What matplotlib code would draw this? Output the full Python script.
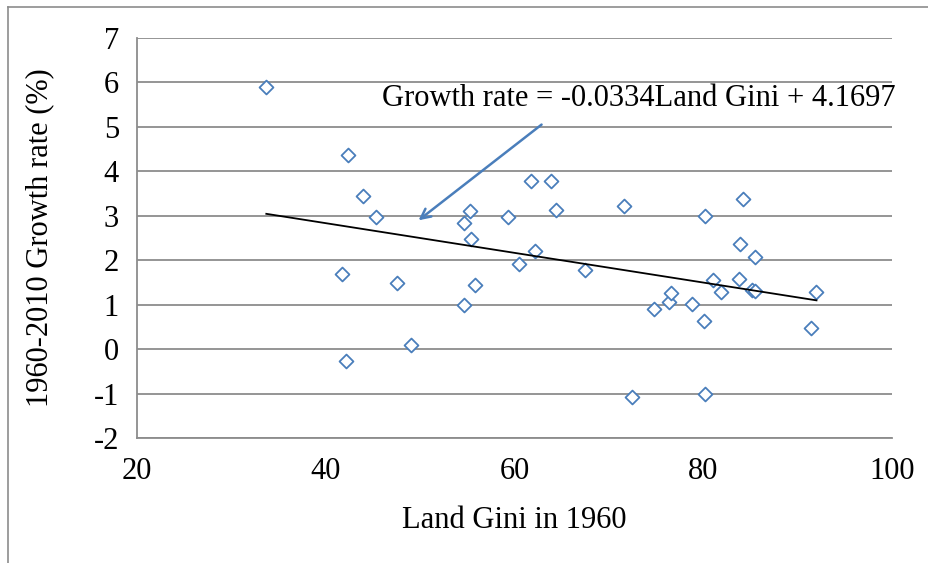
import matplotlib
matplotlib.use("Agg")
import matplotlib.pyplot as plt
from matplotlib.lines import Line2D

plt.rcParams['font.family'] = ['Liberation Serif', 'DejaVu Serif']
plt.rcParams['axes.unicode_minus'] = False

land_gini = [33.7, 42.4, 43.9, 45.3, 41.7, 42.1, 47.5, 49.0, 54.7, 54.6,
             55.3, 55.4, 55.8, 59.3, 60.5, 61.8, 62.2, 63.9, 64.4, 67.5,
             71.6, 72.4, 74.8, 76.4, 76.6, 78.8, 80.2, 80.1, 80.2, 81.0,
             81.9, 83.8, 83.9, 84.2, 85.5, 85.2, 85.5, 91.4, 92.0]
growth = [5.90, 4.36, 3.44, 2.97, 1.68, -0.27, 1.48, 0.09, 0.99, 2.83,
          3.10, 2.47, 1.44, 2.97, 1.91, 3.78, 2.20, 3.78, 3.13, 1.77,
          3.22, -1.08, 0.90, 1.05, 1.26, 1.01, 2.99, 0.63, -1.02, 1.55,
          1.28, 1.57, 2.36, 3.37, 2.07, 1.32, 1.30, 0.47, 1.28]

slope = -0.0334
intercept = 4.1697
eq_label = "Growth rate = -0.0334Land Gini + 4.1697"
x_label = "Land Gini in 1960"
y_label = "1960-2010 Growth rate (%)"
x_ticks = [20, 40, 60, 80, 100]
y_ticks = [-2, -1, 0, 1, 2, 3, 4, 5, 6, 7]

fs = 22

fig = plt.figure(figsize=(9.29, 5.63), dpi=100)
ax = fig.add_axes([137/929, 1-438/563, (892-137)/929, (438-38)/563])

grid_c = '#8c8c8c'
for yv in y_ticks:
    ax.axhline(yv, color=grid_c, lw=1.3, zorder=0)

ax.scatter(land_gini, growth, marker='D', s=50, facecolors='white',
           edgecolors='#4a7ebb', linewidths=1.3, zorder=3)

xmin, xmax = min(land_gini), max(land_gini)
ax.plot([xmin, xmax], [slope*xmin+intercept, slope*xmax+intercept],
        color='black', lw=1.3, zorder=4)

ax.set_xlim(20, 100)
ax.set_ylim(-2, 7)
ax.set_xticks(x_ticks)
ax.set_yticks(y_ticks)
ax.tick_params(length=0, labelsize=fs)
ax.tick_params(axis='y', pad=13)
ax.tick_params(axis='x', pad=14)
for s in ['top', 'right']:
    ax.spines[s].set_visible(False)
for s in ['left', 'bottom']:
    ax.spines[s].set_color(grid_c)
    ax.spines[s].set_linewidth(1.3)

ax.set_xlabel(x_label, fontsize=fs)
ax.set_ylabel(y_label, fontsize=fs)
ax.xaxis.set_label_coords(0.5, (438-520)/400, transform=ax.transAxes)
ax.yaxis.set_label_coords((40-137)/755, 0.5, transform=ax.transAxes)
ax.xaxis.label.set_va('center')
ax.yaxis.label.set_va('center')

ax.text(45.95, 5.64, eq_label, fontsize=fs, ha='left', va='center', zorder=5)
ax.annotate('', xy=(49.6, 2.86), xytext=(63.1, 5.09),
            arrowprops=dict(arrowstyle='->,head_length=0.7,head_width=0.35',
                            color='#4a7ebb', lw=1.8), zorder=5)

# outer frame lines (top and left)
fig.add_artist(Line2D([8/929, 1], [1-7/563, 1-7/563], color='#8c8c8c', lw=1.2))
fig.add_artist(Line2D([8/929, 8/929], [0, 1-7/563], color='#8c8c8c', lw=1.2))

fig.savefig('out.png', dpi=100)
